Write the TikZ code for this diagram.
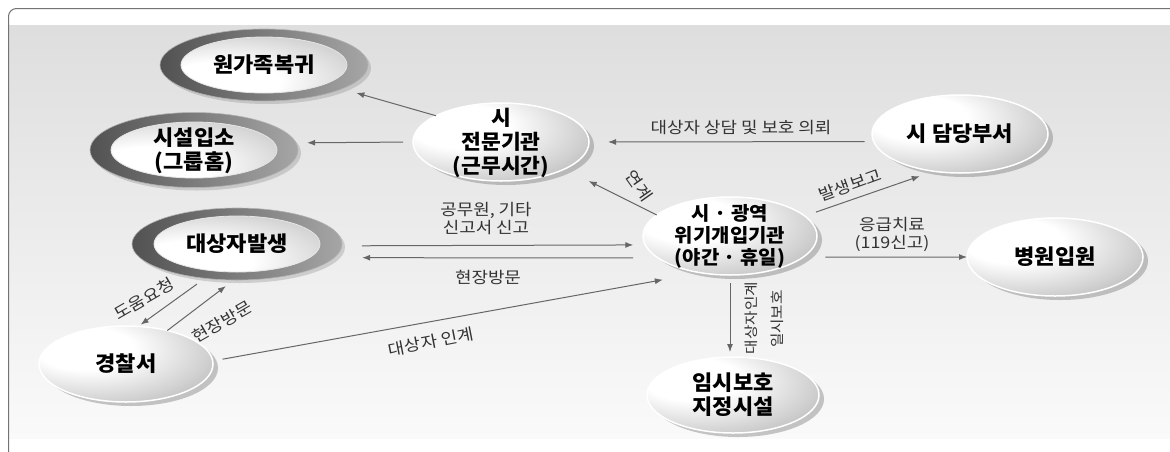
\documentclass[tikz,border=0pt]{standalone}
\usepackage{fontspec}
\newfontfamily\kr{Noto Sans CJK KR}[FakeStretch=1.05]
\newfontfamily\krl{Noto Sans CJK KR}[FakeStretch=1.12]
\usetikzlibrary{shapes.geometric,arrows.meta,shadows}
\pgfdeclareradialshading{glossy}{\pgfpoint{-14bp}{12bp}}{color(0bp)=(white); color(14bp)=(white); color(32bp)=(black!18); color(48bp)=(black!36); color(62bp)=(black!46); color(90bp)=(black!46)}
\newcommand\nt[1]{\hbox to 0pt{\hss\lower0.17em\vbox to 0pt{\vss\hbox{\begin{tabular}{@{}c@{}}#1\end{tabular}}\vss}\hss}}
\tikzset{
  nodefont/.style={font=\kr\bfseries\fontsize{21}{21}\selectfont},
  lightnode/.style={ellipse, inner sep=0pt, outer sep=0pt, minimum width=176pt, minimum height=78pt,
    shade, shading=glossy, draw=white, line width=1.5pt, nodefont,
    drop shadow={shadow xshift=5pt, shadow yshift=-4pt, fill=black!55, opacity=0.4}},
  darknode/.style={ellipse, inner sep=0pt, outer sep=0pt, minimum width=208pt, minimum height=72pt,
    left color=black!68, right color=black!35, draw=black!30, line width=0.6pt, nodefont,
    drop shadow={shadow xshift=3pt, shadow yshift=-3pt, fill=black!50, opacity=0.3},
    path picture={\shade[shading=glossy, draw=black!10, line width=0.8pt] (path picture bounding box.center) ellipse [x radius=83pt, y radius=28pt];}},
  conn/.style={draw=black!60, line width=1pt, -{Latex[length=8pt,width=6pt]}},
  lbl/.style={inner sep=0pt, text=black!80, font=\krl\fontsize{16}{18}\selectfont},
  vlbl/.style={inner sep=0pt, text=black!80, font=\krl\fontsize{14}{16}\selectfont}
}
\begin{document}
\begin{tikzpicture}[x=1pt, y=-1pt]
\useasboundingbox (0,0) rectangle (1170,451);
\clip (0,0) rectangle (1170,451);
\fill[white] (0,0) rectangle (1170,451);
\shade[top color=black!13, bottom color=black!2] (9,25) rectangle (1170,438);
\draw[black!55, line width=1pt, rounded corners=8pt] (8.5,8.5) rectangle (1200,480);

% nodes
\node[darknode] (wgb) at (264,65) {\nt{원가족복귀}};
\node[darknode, minimum height=75pt] (sisul) at (194,150) {\nt{시설입소\\(그룹홈)}};
\node[darknode, minimum width=210pt] (dsb) at (237,244) {\nt{대상자발생}};
\node[lightnode, font=\kr\bfseries\fontsize{20.5}{22}\selectfont] (jm) at (501,142) {\nt{시\\전문기관\\(근무시간)}};
\node[lightnode] (dd) at (960,134) {\nt{시 담당부서}};
\node[lightnode, minimum width=174pt, font=\kr\bfseries\fontsize{19}{19.5}\selectfont] (wg) at (730,236) {\nt{시 · 광역\\위기개입기관\\(야간 · 휴일)}};
\node[lightnode] (bw) at (1055,257) {\nt{병원입원}};
\node[lightnode, minimum width=174pt, minimum height=76pt] (ps) at (126,364) {\nt{경찰서}};
\node[lightnode, minimum width=172pt, minimum height=76pt] (im) at (733,395) {\nt{임시보호\\지정시설}};

% connectors
\draw[conn, shorten >=15pt] (jm.158) -- (wgb.-17);
\draw[conn, shorten <=10pt, shorten >=11pt] (jm.180) -- (sisul.4);
\draw[conn, shorten <=9pt, shorten >=19pt] (dd.185) -- (jm.0);
\draw[conn, shorten >=27pt] (wg.164) -- (jm.-23);
\draw[conn, shorten <=12pt, shorten >=15pt] (wg.15) -- (dd.235);
\draw[conn, shorten <=22pt] (wg.-16) -- (bw.180);
\draw[conn, shorten <=20pt, shorten >=12pt] (dsb.-1) -- (wg.186);
\draw[conn, shorten <=25pt, shorten >=28pt] (wg.197) -- (dsb.-8);
\draw[conn, shorten <=10pt, shorten >=3pt] (dsb.227) -- (ps.72);
\draw[conn, shorten >=10pt] (ps.39) -- (dsb.265);
\draw[conn, shorten <=10pt, shorten >=39pt] (ps.2) -- (wg.232);
\draw[conn, shorten <=8pt, shorten >=5pt] (wg.270) -- (wg.270 |- im.north);

% labels
\node[lbl] (t1) at (741,128) {대상자 상담 및 보호 의뢰};
\node[lbl, rotate=-55] (t2) at (639,186) {연계};
\node[lbl, rotate=20] (t3) at (850,185) {발생보고};
\node[lbl, align=center] (t4) at (892,234) {응급치료\\(119신고)};
\node[lbl, align=center] (t5) at (486,219) {공무원, 기타\\신고서 신고};
\node[lbl] (t6) at (488,277) {현장방문};
\node[lbl, rotate=30] (t7) at (144,299) {도움요청};
\node[lbl, rotate=30] (t8) at (222,322) {현장방문};
\node[lbl, rotate=11] (t9) at (431,342) {대상자 인계};
\node[vlbl, rotate=90] (t10) at (751,318) {대상자인계};
\node[vlbl, rotate=90] (t11) at (777,319) {일시보호};
\end{tikzpicture}
\end{document}
